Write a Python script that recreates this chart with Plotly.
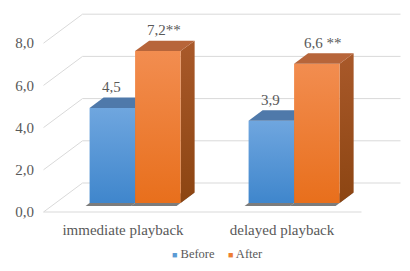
import plotly.graph_objects as go

# ---------------- data ----------------
categories = ["immediate playback", "delayed playback"]
series_names = ["Before", "After"]
before_values = [4.5, 3.9]
after_values = [7.2, 6.6]
label_texts_before = ["4,5", "3,9"]
label_texts_after = ["7,2**", "6,6 **"]
y_ticks = [0, 2, 4, 6, 8]

# ---------------- geometry / style ----------------
OFF = 8               # page body margin of the browser
W_PX, H_PX = 410 - OFF, 271 - OFF
PX_X = 159.0          # pixels per category unit
PX_Y = 21.1           # pixels per value unit
X0_PX = 123.0 - OFF   # pixel of category 0 on front plane
Y0_PX = 212.0 - OFF   # pixel of value 0 on front plane
ML, MR, MT, MB = 43 - OFF, 2, 2, 52

DX = 39.0 / PX_X      # full depth offset (data units)
DY = 29.0 / PX_Y
F0 = 0.31             # depth of bar front faces
FD = 0.36             # bar depth
BAR_W = 45.5 / PX_X

x_range = [(ML - X0_PX) / PX_X, (W_PX - MR - X0_PX) / PX_X]
y_range = [(Y0_PX - (H_PX - MB)) / PX_Y, (Y0_PX - MT) / PX_Y]

TXT = "#595959"
GRID = "#d9d9d9"
FONT = "Liberation Serif"

styles = {
    "Before": dict(front=("#3f86cc", "#6fa6df"), top="#4f79aa", side=("#2f5f95", "#3d6fa8"), legend="#5b9bd5"),
    "After": dict(front=("#e86f1c", "#f28d50"), top="#b7653a", side=("#8c4512", "#a9592a"), legend="#ed7d31"),
}

fig = go.Figure()

# ---- back wall gridlines & floor ----
gx, gy = [], []
xl, xr = -0.5, len(categories) - 0.5
for v in y_ticks:
    gx += [xl, xl + DX, xr + DX, None]
    gy += [v, v + DY, v + DY, None]
gx += [xl, xr, None]
gy += [0, 0, None]
fig.add_trace(go.Scatter(x=gx, y=gy, mode="lines", line=dict(color=GRID, width=1),
                         hoverinfo="skip", showlegend=False))

# ---- bars ----
base = F0 * DY
ddx, ddy = FD * DX, FD * DY
all_series = [("Before", before_values, label_texts_before), ("After", after_values, label_texts_after)]

# shadows first
for s_idx, (name, vals, _) in enumerate(all_series):
    for i, v in enumerate(vals):
        xL = i + F0 * DX + (s_idx - 1) * BAR_W
        xR = xL + BAR_W
        sx, sy = -4.0 / PX_X, -3.0 / PX_Y
        fig.add_trace(go.Scatter(
            x=[xL + sx, xR + sx, xR + ddx, xL + ddx + sx, xL + sx],
            y=[base + sy, base + sy, base + ddy, base + ddy + sy, base + sy],
            fill="toself", mode="lines", line=dict(width=0),
            fillcolor="rgba(80,80,80,0.75)", hoverinfo="skip", showlegend=False))

for s_idx, (name, vals, _) in enumerate(all_series):
    st = styles[name]
    for i, v in enumerate(vals):
        xL = i + F0 * DX + (s_idx - 1) * BAR_W
        xR = xL + BAR_W
        top = base + v
        # side face
        fig.add_trace(go.Scatter(
            x=[xR, xR + ddx, xR + ddx, xR, xR],
            y=[base, base + ddy, top + ddy, top, base],
            fill="toself", mode="lines", line=dict(width=0),
            fillgradient=dict(type="vertical", colorscale=[[0, st["side"][0]], [1, st["side"][1]]]),
            hoverinfo="skip", showlegend=False))
        # front face
        fig.add_trace(go.Scatter(
            x=[xL, xR, xR, xL, xL],
            y=[base, base, top, top, base],
            fill="toself", mode="lines", line=dict(width=0),
            fillgradient=dict(type="vertical", colorscale=[[0, st["front"][0]], [1, st["front"][1]]]),
            name=name, hoverinfo="skip", showlegend=False))
        # top face
        fig.add_trace(go.Scatter(
            x=[xL, xR, xR + ddx, xL + ddx, xL],
            y=[top, top, top + ddy, top + ddy, top],
            fill="toself", mode="lines", line=dict(width=0),
            fillcolor=st["top"], hoverinfo="skip", showlegend=False))

# ---- data labels ----
annotations = []
label_shift = {"Before": -1, "After": 6}
for s_idx, (name, vals, texts) in enumerate(all_series):
    for i, v in enumerate(vals):
        xc = i + F0 * DX + (s_idx - 0.5) * BAR_W
        annotations.append(dict(x=xc, y=base + v + 1.0, text=texts[i], showarrow=False,
                                xanchor="center", yanchor="middle", xshift=label_shift[name],
                                font=dict(family=FONT, size=15, color=TXT)))

# ---- legend (as text items) ----
pw = W_PX - ML - MR
ph = H_PX - MT - MB
legend_items = [("Before", 170 - OFF), ("After", 226 - OFF)]
LEG_Y = 254 - OFF
for name, px in legend_items:
    annotations.append(dict(
        xref="paper", yref="paper", x=(px - ML) / pw, y=((H_PX - MB) - LEG_Y) / ph,
        xanchor="left", yanchor="middle", showarrow=False,
        text=f"<span style='font-size:9px;color:{styles[name]['legend']}'>■</span> {name}",
        font=dict(family=FONT, size=12.5, color=TXT)))

fig.update_layout(
    width=W_PX, height=H_PX,
    margin=dict(l=ML, r=MR, t=MT, b=MB),
    paper_bgcolor="white", plot_bgcolor="white",
    separators=",.",
    showlegend=False,
    annotations=annotations,
    font=dict(family=FONT, color=TXT, size=15),
)
fig.update_xaxes(range=x_range, tickvals=list(range(len(categories))), ticktext=categories,
                 showgrid=False, zeroline=False, showline=False, ticks="", fixedrange=True,
                 tickfont=dict(family=FONT, size=15, color=TXT))
fig.update_yaxes(range=y_range, tickvals=y_ticks, tickformat=".1f",
                 showgrid=False, zeroline=False, showline=False, ticks="",
                 ticklabelstandoff=8, fixedrange=True,
                 tickfont=dict(family=FONT, size=15, color=TXT))

fig.write_html("out.html")
